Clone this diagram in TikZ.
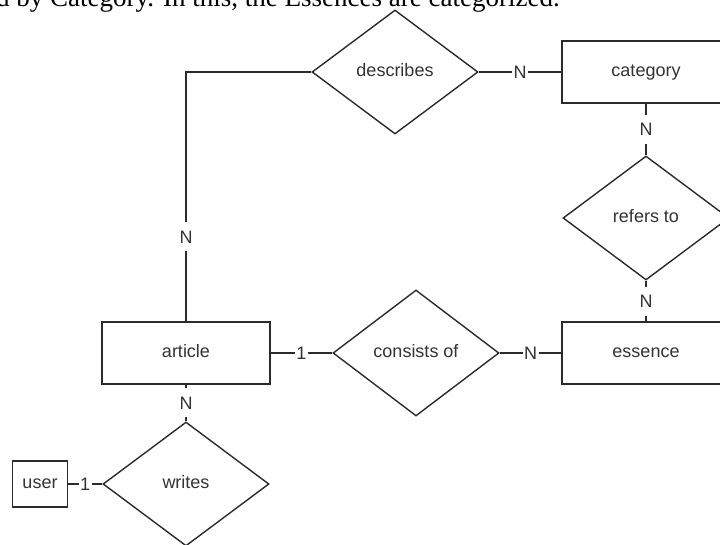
\documentclass[tikz,border=0pt]{standalone}
\usepackage{fontspec}
\setmainfont{Liberation Sans}
\newfontfamily\introfont{Liberation Serif}
\usetikzlibrary{shapes.geometric}

\definecolor{erline}{HTML}{2B2B2B}
\definecolor{ertext}{HTML}{333333}

\begin{document}
\begin{tikzpicture}[x=1pt, y=-1pt,
  erfont/.style={text=ertext, font=\fontsize{18}{21}\selectfont},
  entity/.style={erfont, draw=erline, line width=1.4pt, rectangle,
    minimum width=168pt, minimum height=62pt, text height=13pt, text depth=4pt},
  relation/.style={erfont, draw=erline, line width=1.4pt, diamond, inner sep=0pt,
    minimum width=166pt, minimum height=124pt, text height=13pt, text depth=4pt},
  card/.style={erfont, fill=white, inner xsep=1.5pt, inner ysep=8pt,
    text height=13pt, text depth=0pt},
  link/.style={draw=erline, line width=1.4pt}]

% Page frame, everything outside is cut off
\useasboundingbox (0,0) rectangle (720,545);
\clip (0,0) rectangle (720,545);

% Line of running text above the diagram
\node[anchor=base west, inner sep=0pt, font=\introfont\fontsize{27}{32}\selectfont]
  (intro) at (-4,7) {d by Category. In this, the Essences are categorized.};

% Entities
\node[entity] (category) at (646,72) {category};
\node[entity] (essence) at (646,353) {essence};
\node[entity] (article) at (186,353) {article};
\node[entity, minimum width=55pt, minimum height=46pt] (user) at (40,484) {user};

% Relations
\node[relation] (describes) at (395,72) {describes};
\node[relation] (refers) at (646,218) {refers to};
\node[relation, minimum height=126pt] (consists) at (416,353) {consists of};
\node[relation] (writes) at (186,484) {writes};

% Connectors with cardinalities
\draw[link] (describes) -- node[card] {N} (category);
\draw[link] (category) -- node[card] {N} (refers);
\draw[link] (refers) -- node[card] {N} (essence);
\draw[link] (article) -- node[card] {1} (consists);
\draw[link] (consists) -- node[card] {N} (essence);
\draw[link] (article) -- node[card] {N} (writes);
\draw[link] (user) -- node[card] {1} (writes);
\draw[link] (describes.west) -| node[card, pos=0.83] {N} (article.north);

\end{tikzpicture}
\end{document}
